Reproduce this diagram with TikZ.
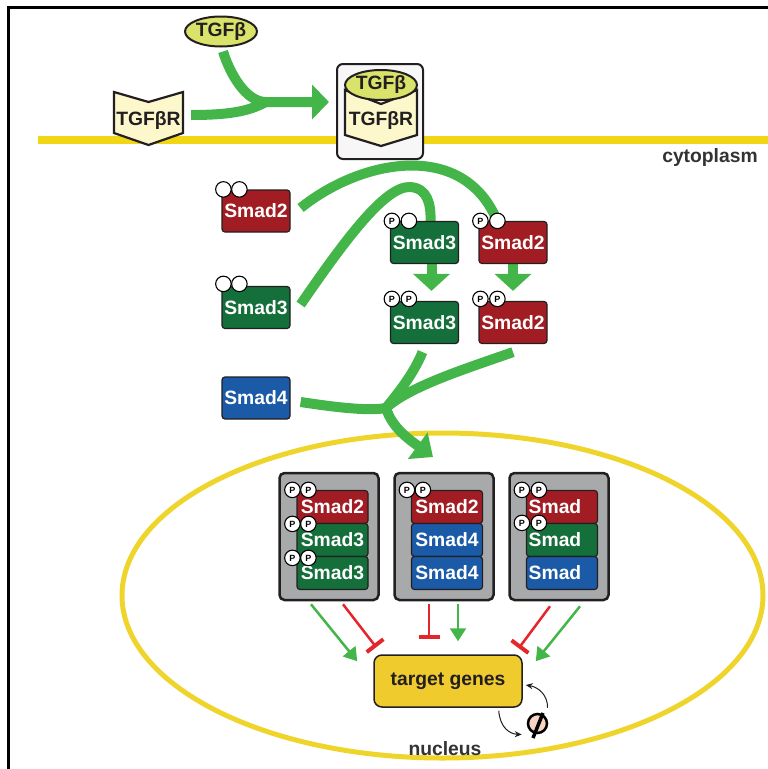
\documentclass[tikz,border=0pt]{standalone}
\usepackage{fontspec}
\setmainfont{Liberation Sans}
\usetikzlibrary{arrows.meta,calc,shapes.geometric}
\pgfdeclarelayer{back}
\pgfdeclarelayer{mid}
\pgfsetlayers{back,mid,main}

\definecolor{sred}{HTML}{A21D23}
\definecolor{sgreen}{HTML}{146F3A}
\definecolor{sblue}{HTML}{1B5AA6}
\definecolor{agreen}{HTML}{43B549}
\definecolor{memb}{HTML}{F0D614}
\definecolor{nuclc}{HTML}{EFD42B}
\definecolor{tgfbc}{HTML}{D9E36A}
\definecolor{recep}{HTML}{FCF8CC}
\definecolor{cgray}{HTML}{A7A9AA}
\definecolor{targetc}{HTML}{F0CB2E}
\definecolor{ired}{HTML}{E4252B}
\definecolor{dtext}{HTML}{231F20}
\definecolor{lbl}{HTML}{333333}
\definecolor{pinkc}{HTML}{F9D3C3}

\begin{document}
\begin{tikzpicture}[x=1pt,y=-1pt,
  every node/.style={font=\bfseries\fontsize{19.3}{21}\selectfont},
  smad/.style={draw=dtext, line width=1.2pt, rounded corners=3pt, minimum width=68pt, minimum height=42pt, inner sep=0pt, text=white},
  row/.style={draw=dtext, line width=1.2pt, rounded corners=3pt, minimum width=71pt, minimum height=33pt, inner sep=0pt, text=white},
  phos/.style={circle, draw=black, line width=1.1pt, fill=white, minimum size=15.5pt, inner sep=0pt, font=\bfseries\fontsize{9}{9}\selectfont},
  cbox/.style={draw=dtext, line width=2.5pt, fill=cgray, rounded corners=5pt, minimum width=99pt, minimum height=127pt},
  chev/.style={draw=dtext, line width=2.2pt, fill=recep, line join=miter},
  gline/.style={draw=agreen, line width=10pt},
  garrow/.style={gline, -{Triangle[width=34pt,length=17pt]}},
  gshort/.style={gline, -{Triangle[width=36pt,length=17pt]}},
  gnuc/.style={gline, -{Triangle[width=32pt,length=19pt]}},
  tgreen/.style={draw=agreen, line width=2.5pt, -{Triangle[width=16pt,length=13pt]}},
  tred/.style={draw=ired, line width=2.5pt, -{Bar[width=21pt,line width=4pt]}},
  sarr/.style={draw=dtext, line width=1pt, -{Stealth[length=7pt,width=6pt]}}
]
\useasboundingbox (0,0) rectangle (768,769);

% frame, membrane, nucleus
\begin{pgfonlayer}{back}
\draw[line width=3pt, line join=miter] (8,769) -- (8,7) -- (768,7);
\coordinate (m1) at (38,140);
\coordinate (m2) at (768,140);
\draw[memb, line width=8pt] (m1) -- (m2);
\node[ellipse, draw=nuclc, line width=5pt, minimum width=641pt, minimum height=325pt, inner sep=0pt] (nuc) at (442.5,595.5) {};
\end{pgfonlayer}

% TGFbeta ligand
\node[ellipse, draw=dtext, line width=2pt, fill=tgfbc, minimum width=72pt, minimum height=30pt, inner sep=0pt, text=dtext] (tgfb) at (221,31.5) {\makebox[0pt]{TGFβ}};

% receptor
\draw[chev] (114,92) -- (148.5,102) -- (183,92) -- (183,133) -- (148.5,145) -- (114,133) -- cycle;
\node[minimum width=69pt, inner sep=0pt, text=dtext] (rec) at (148.5,121) {TGFβR};

% complex
\node[draw=dtext, line width=2pt, fill=black!3, rounded corners=6pt, minimum width=86pt, minimum height=95pt] (cplx) at (380,111.5) {};
\draw[chev] (345,90) -- (381,104) -- (417,90) -- (417,135) -- (381,146) -- (345,135) -- cycle;
\node[inner sep=0pt, text=dtext] (crec) at (381,121) {TGFβR};
\node[ellipse, draw=dtext, line width=2pt, fill=tgfbc, minimum width=72pt, minimum height=30pt, inner sep=0pt, text=dtext] (ctgfb) at (381,85) {\makebox[0pt]{TGFβ}};

% Smads in cytoplasm
\node[smad, fill=sred] (s2a) at (256,211) {Smad2};
\node[smad, fill=sgreen] (s3a) at (256,307.5) {Smad3};
\node[smad, fill=sblue] (s4) at (256,398) {Smad4};
\node[smad, fill=sgreen] (s3b) at (424.5,242.5) {Smad3};
\node[smad, fill=sred] (s2b) at (513,242.5) {Smad2};
\node[smad, fill=sgreen] (s3c) at (424.5,322.5) {Smad3};
\node[smad, fill=sred] (s2c) at (513,322.5) {Smad2};

% phosphorylation sites
\node[phos] (e1) at ($(s2a.north west)+(2,0)$) {};
\node[phos] (e2) at ($(s2a.north west)+(18,0)$) {};
\node[phos] (e3) at ($(s3a.north west)+(2,-2)$) {};
\node[phos] (e4) at ($(s3a.north west)+(18,-2)$) {};
\node[phos] (p1) at ($(s3b.north west)+(2,0)$) {P};
\node[phos] (e5) at ($(s3b.north west)+(19,0)$) {};
\node[phos] (p2) at ($(s2b.north west)+(2,0)$) {P};
\node[phos] (e6) at ($(s2b.north west)+(19,0)$) {};
\node[phos] (p3) at ($(s3c.north west)+(2,-2)$) {P};
\node[phos] (p4) at ($(s3c.north west)+(19,-2)$) {P};
\node[phos] (p5) at ($(s2c.north west)+(2,-2)$) {P};
\node[phos] (p6) at ($(s2c.north west)+(19,-2)$) {P};

% nuclear complexes
\node[cbox] (c1) at (329,536.5) {};
\node[cbox] (c2) at (444,536.5) {};
\node[cbox] (c3) at (559,536.5) {};

\node[row, fill=sred]   (c1a) at (332.5,507) {Smad2};
\node[row, fill=sgreen] (c1b) at (332.5,540) {Smad3};
\node[row, fill=sgreen] (c1c) at (332.5,573) {Smad3};
\node[row, fill=sred]   (c2a) at (447,507) {Smad2};
\node[row, fill=sblue]  (c2b) at (447,540) {Smad4};
\node[row, fill=sblue]  (c2c) at (447,573) {Smad4};
\node[row, fill=sred]   (c3a) at (562,507) {\hspace*{-14pt}Smad};
\node[row, fill=sgreen] (c3b) at (562,540) {\hspace*{-14pt}Smad};
\node[row, fill=sblue]  (c3c) at (562,573) {\hspace*{-14pt}Smad};

\node[phos] (q1) at ($(c1a.north west)+(-4,0)$) {P};
\node[phos] (q2) at ($(c1a.north west)+(12,0)$) {P};
\node[phos] (q3) at ($(c1b.north west)+(-4,1)$) {P};
\node[phos] (q4) at ($(c1b.north west)+(12,1)$) {P};
\node[phos] (q5) at ($(c1c.north west)+(-4,2)$) {P};
\node[phos] (q6) at ($(c1c.north west)+(12,2)$) {P};
\node[phos] (q7) at ($(c2a.north west)+(-4,0)$) {P};
\node[phos] (q8) at ($(c2a.north west)+(12,0)$) {P};
\node[phos] (q9) at ($(c3a.north west)+(-4,0)$) {P};
\node[phos] (q10) at ($(c3a.north west)+(13,0)$) {P};
\node[phos] (q11) at ($(c3b.north west)+(-4,0)$) {P};
\node[phos] (q12) at ($(c3b.north west)+(13,0)$) {P};

% target genes
\node[draw=dtext, line width=1.5pt, fill=targetc, rounded corners=8pt, minimum width=148pt, minimum height=52pt, text=dtext] (tg) at (448,681) {target genes};

% degradation
\node[circle, draw=black, line width=2.5pt, fill=pinkc, minimum size=19pt, inner sep=0pt] (deg) at (537.5,723.5) {};
\draw[line width=3.5pt] ($(deg.center)+(-4.5,14.5)$) -- ($(deg.center)+(5.5,-10.5)$);

% labels
\node[anchor=base, text=lbl] (cyto) at (710,162) {cytoplasm};
\node[anchor=base, text=lbl] (nuclab) at (445,755) {nucleus};

% green signalling paths
\begin{pgfonlayer}{mid}
\coordinate (j1) at (266,102);
\coordinate (tipA) at (329,102);
\draw[garrow] ($(tgfb.south)+(2,4)$) .. controls (230,74) and (246,102) .. (j1) -- (tipA);
\draw[gline] ($(rec.east)+(8,-6)$) .. controls (238,115) and (252,109) .. (j1);

\draw[gline] ($(s2a.east)+(10,-3)$) .. controls (360,160) and (460,140) .. ($(s2b.north west)+(17,-4)$);
\draw[gline] ($(s3a.east)+(10,-3)$) .. controls (345,240) and (385,186) .. (410,187) .. controls (428,188) and (431,205) .. ($(s3b.north)+(6,0)$);

\draw[gshort, shorten >=10pt] ([xshift=7pt]s3b.south) -- ([xshift=7pt]s3c.north);
\draw[gshort, shorten >=10pt] (s2b.south) -- (s2c.north);

\coordinate (j2) at (386,408);
\coordinate (tipB) at (433,457);
\draw[gnuc] ($(s4.east)+(10,4)$) .. controls (340,408) and (370,411) .. (j2) .. controls (392,428) and (410,440) .. (tipB);
\draw[gline] ($(s3c.south)+(-2,8)$) .. controls (413,375) and (398,393) .. (j2);
\draw[gline] ($(s2c.south)+(0,8)$) .. controls (468,368) and (410,386) .. (j2);
\end{pgfonlayer}

% regulation of target genes
\draw[tgreen] ($(c1.south)+(-18,3)$) -- ($(tg.north west)+(-16,7)$);
\draw[tred]   ($(c1.south)+(14,3)$) -- ($(tg.north west)+(3,-7)$);
\draw[tred]   ($(c2.south)+(-15,3)$) -- ($(tg.north)+(-19,-15)$);
\draw[tgreen] ($(c2.south)+(14,3)$) -- ($(tg.north)+(10,-13)$);
\draw[tred]   ($(c3.south)+(-9,5)$) -- ($(tg.north east)+(-4,-6)$);
\draw[tgreen] ($(c3.south)+(21,5)$) -- ($(tg.north east)+(13,7)$);

% degradation cycle
\draw[sarr] ($(tg.south east)+(-24,3)$) .. controls (500,728) and (510,734) .. ($(deg.west)+(-5,11)$);
\draw[sarr] ($(deg.north)+(10,-5)$) .. controls (548,695) and (538,687) .. ($(tg.east)+(3,4)$);
\end{tikzpicture}
\end{document}
